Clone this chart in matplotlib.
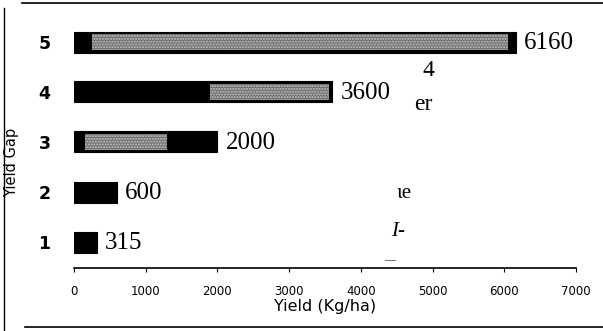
import matplotlib
matplotlib.use("Agg")
import matplotlib.pyplot as plt
from matplotlib.lines import Line2D

categories = [1, 2, 3, 4, 5]
yields = [315, 600, 2000, 3600, 6160]
value_labels = ["315", "600", "2000", "3600", "6160"]
# scanned grey speckle regions on the bars (start, end) in Kg/ha
speckle_start = [0, 0, 150, 1900, 250]
speckle_end = [0, 0, 1300, 3550, 6050]
xticks = [0, 1000, 2000, 3000, 4000, 5000, 6000, 7000]

fig = plt.figure(figsize=(6.03, 3.31), dpi=100)
ax = fig.add_axes([74/603, (331-268)/331, 502/603, 251/331])

ax.barh(categories, yields, height=0.42, color="black", edgecolor="black", linewidth=0.8)
widths = [e - s for s, e in zip(speckle_start, speckle_end)]
ax.barh(categories, widths, left=speckle_start, height=0.32, color="#6e6e6e",
        edgecolor="#c8c8c8", hatch="......", linewidth=0)

for c, v, lab in zip(categories, yields, value_labels):
    ax.annotate(lab, (v, c), xytext=(6, -1), textcoords="offset points",
                va="center", ha="left", fontsize=18, family="Liberation Serif")

ax.set_xlim(0, 7000)
ax.set_ylim(0.48, 5.5)
ax.set_xticks(xticks)
ax.set_xticklabels([str(t) for t in xticks], fontsize=8.5, family="DejaVu Sans")
ax.set_yticks(categories)
ax.set_yticklabels([str(c) for c in categories], fontsize=12.5, fontweight="bold",
                   family="DejaVu Sans")
ax.tick_params(axis="y", length=0, pad=17)
ax.tick_params(axis="x", length=3, direction="out", pad=9)
for s in ["top", "right", "left"]:
    ax.spines[s].set_visible(False)
ax.spines["bottom"].set_linewidth(1.2)

ax.set_xlabel("Yield (Kg/ha)", fontsize=11.5, family="DejaVu Sans", labelpad=1)
fig.text(12/603, 1 - 162/331, "Yield Gap", rotation=90, fontsize=10.5,
         family="DejaVu Sans", ha="center", va="center")

# scan artefacts (stray text)
fig.text(428/603, 1 - 70/331, "4", fontsize=17, family="Liberation Serif", ha="center", va="center")
fig.text(423/603, 1 - 104/331, "er", fontsize=17, family="Liberation Serif", ha="center", va="center")
fig.text(404/603, 1 - 194/331, "ιe", fontsize=15, family="Liberation Serif", ha="center", va="center")
fig.text(398/603, 1 - 231/331, "I-", fontsize=15, family="Liberation Serif", style="italic", ha="center", va="center")
fig.text(390/603, 1 - 261/331, "—", fontsize=8, family="Liberation Serif", ha="center", va="center")

# frame of the scanned figure
fig.add_artist(Line2D([22/603, 1], [1 - 3/331, 1 - 3/331], color="black", lw=1.2))
fig.add_artist(Line2D([4/603, 4/603], [0, 1 - 8/331], color="black", lw=1.0))
fig.add_artist(Line2D([25/603, 1], [1 - 327/331, 1 - 327/331], color="black", lw=1.2))

fig.savefig("out.png", dpi=100)
